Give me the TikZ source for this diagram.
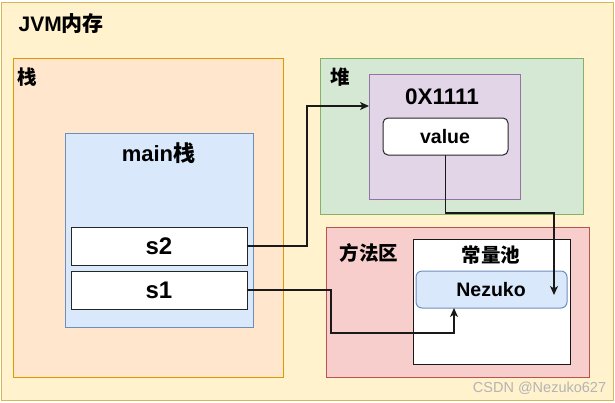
\documentclass[tikz,border=0pt]{standalone}
\usepackage{fontspec}
\setmainfont{Liberation Sans}
\newfontfamily\cjk{Noto Sans CJK SC}
\usetikzlibrary{arrows.meta,calc}
\definecolor{outerF}{HTML}{FFF2CC}\definecolor{outerD}{HTML}{D6B656}
\definecolor{stackF}{HTML}{FFE6CC}\definecolor{stackD}{HTML}{D79B00}
\definecolor{blueF}{HTML}{DAE8FC}\definecolor{blueD}{HTML}{6C8EBF}
\definecolor{greenF}{HTML}{D5E8D4}\definecolor{greenD}{HTML}{82B366}
\definecolor{purpF}{HTML}{E1D5E7}\definecolor{purpD}{HTML}{9673A6}
\definecolor{redF}{HTML}{F8CECC}\definecolor{redD}{HTML}{B85450}
\definecolor{wmark}{HTML}{B4B4B4}
\tikzset{
  box/.style={draw, line width=1pt, inner sep=0pt, outer sep=0pt},
  lbl/.style={inner sep=0pt, font=\bfseries\fontsize{20}{22}\selectfont},
  cn/.style={font=\bfseries\cjk\fontsize{19.5}{22}\selectfont, inner sep=0pt},
  wire/.style={draw=black!90, line width=1.3pt},
  arrow/.style={wire, -{Stealth[length=9pt,width=8pt,inset=2.5pt]}}
}
\begin{document}
\begin{tikzpicture}[x=1pt,y=-1pt]
\useasboundingbox (0,0) rectangle (615,402);
\fill[white] (0,0) rectangle (615,402);
% containers
\node[box, fill=outerF, draw=outerD, minimum width=612pt, minimum height=398pt] (outer) at (307,201) {};
\node[box, fill=stackF, draw=stackD, minimum width=270pt, minimum height=319pt] (stack) at (148,217.5) {};
\node[box, fill=blueF, draw=blueD, minimum width=188pt, minimum height=194pt] (main) at (159,230) {};
\node[box, fill=white, draw=black!85, minimum width=176pt, minimum height=38pt] (s2) at (159,246) {};
\node[box, fill=white, draw=black!85, minimum width=176pt, minimum height=38pt] (s1) at (159,290) {};
\node[box, fill=greenF, draw=greenD, minimum width=263pt, minimum height=156pt] (heap) at (451.5,136) {};
\node[box, fill=purpF, draw=purpD, minimum width=151pt, minimum height=125pt] (obj) at (444.5,136.5) {};
\node[box, fill=white, draw=black!85, rounded corners=5pt, minimum width=125pt, minimum height=37pt] (value) at (445.5,136.5) {};
\node[box, fill=redF, draw=redD, minimum width=263pt, minimum height=150pt] (method) at (457.5,302) {};
\node[box, fill=white, draw=black!90, minimum width=157pt, minimum height=125pt] (pool) at (491.5,301.5) {};
\node[box, fill=blueF, draw=blueD, rounded corners=6pt, minimum width=151pt, minimum height=37pt] (nez) at (491.5,289.5) {};
% labels
\node[lbl, anchor=west, font=\bfseries\fontsize{21}{22}\selectfont] (tjvm) at (18.5,24) {JVM{\cjk 内存}};
\node[cn] (tstack) at (27,77) {栈};
\node[lbl, font=\bfseries\fontsize{22}{24}\selectfont] (tmain) at (158.5,153) {main{\cjk 栈}};
\node[lbl, font=\bfseries\fontsize{24}{26}\selectfont] (ts2) at (159,246.5) {s2};
\node[lbl, font=\bfseries\fontsize{24}{26}\selectfont] (ts1) at (159,290.5) {s1};
\node[cn] (theap) at (340,77) {堆};
\node[lbl, font=\bfseries\fontsize{22.5}{24}\selectfont] (tobj) at (442,96.5) {0X1111};
\node[lbl, font=\bfseries\fontsize{19.5}{20}\selectfont] (tval) at (445,137) {value};
\node[cn] (tmeth) at (369,252.5) {方法区};
\node[cn] (tpool) at (491,255) {常量池};
\node[lbl, font=\bfseries\fontsize{19.5}{20}\selectfont] (tnez) at (491,290) {Nezuko};
\node[inner sep=0pt, text=wmark, font=\fontsize{14.5}{16}\selectfont] (wm) at (539.5,388.5) {CSDN @Nezuko627};
% connectors
\coordinate (h) at (307,106);
\draw[arrow] (s2.east) -| (h) -- (h -| obj.west);
\coordinate (v1) at (554,213);
\coordinate (vend) at (554,295);
\draw[arrow] (value.south) |- (v1) -- (vend);
\coordinate (m1) at (331,333);
\coordinate (m2) at (454,333);
\draw[arrow] (s1.east) -| (m1) -- (m2) -- (m2 |- nez.south);
\end{tikzpicture}
\end{document}
